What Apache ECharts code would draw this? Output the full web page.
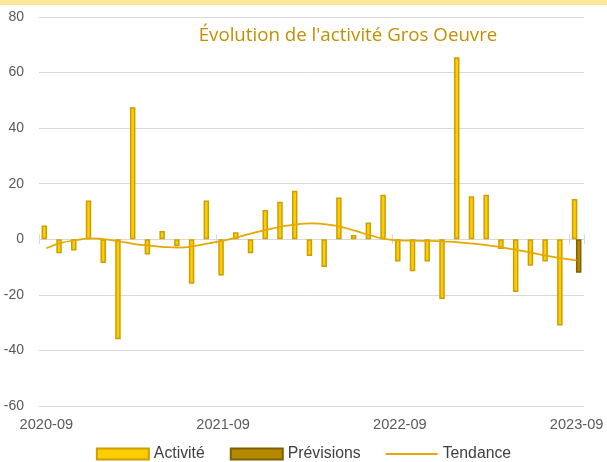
<!DOCTYPE html>
<html>
<head>
<meta charset="utf-8">
<script src="https://cdn.jsdelivr.net/npm/echarts@6/dist/echarts.min.js"></script>
<style>
  html, body { margin: 0; padding: 0; background: #ffffff; }
  #chart { width: 607px; height: 462px; }
</style>
</head>
<body>
<div id="chart"></div>
<script>
// Monthly categories, 2020-09 through 2023-09
const months = [
  '2020-09','2020-10','2020-11','2020-12','2021-01','2021-02','2021-03','2021-04','2021-05','2021-06','2021-07','2021-08',
  '2021-09','2021-10','2021-11','2021-12','2022-01','2022-02','2022-03','2022-04','2022-05','2022-06','2022-07','2022-08',
  '2022-09','2022-10','2022-11','2022-12','2023-01','2023-02','2023-03','2023-04','2023-05','2023-06','2023-07','2023-08',
  '2023-09'
];

// Observed activity (balance of opinion)
const activite = [
  5, -5, -4, 14, -8.5, -36, 47.5, -5.5, 3, -2.5, -16, 14,
  -13, 2.5, -5, 10.5, 13.5, 17.5, -6, -10, 15, 1.5, 6, 16,
  -8, -11.5, -8, -21.5, 65.5, 15.5, 16, -3.5, -19, -9.5, -8, -31,
  14.5
];

// Forecast: only the last month
const previsions = [
  null, null, null, null, null, null, null, null, null, null, null, null,
  null, null, null, null, null, null, null, null, null, null, null, null,
  null, null, null, null, null, null, null, null, null, null, null, null,
  -12
];

// Smoothed trend
const tendance = [
  -3.2, -1.3, -0.3, 0.3, 0.0, -0.8, -1.7, -2.3, -2.8, -3.0, -2.5, -1.5,
  -0.5, 0.8, 2.2, 3.5, 4.6, 5.4, 5.7, 5.4, 4.5, 3.0, 1.4, 0.1,
  -0.4, -0.5, -0.6, -0.8, -1.1, -1.6, -2.2, -3.0, -3.9, -4.9, -6.0, -6.9,
  -7.6
];

const yTicks = { min: -60, max: 80, interval: 20 };

const font = 'Liberation Sans, Arial, sans-serif';
const chart = echarts.init(document.getElementById('chart'), null, { renderer: 'canvas' });

chart.setOption({
  animation: false,
  backgroundColor: '#ffffff',
  graphic: [{
    type: 'rect',
    left: 0, top: 0,
    shape: { width: 607, height: 5 },
    style: { fill: '#FFE699' },
    silent: true
  }],
  title: {
    text: "Évolution de l'activité Gros Oeuvre",
    left: 343, top: 21,
    textAlign: 'center',
    textStyle: { color: '#BF9000', fontSize: 18.7, fontWeight: 'normal', fontFamily: 'Open Sans, sans-serif' }
  },
  legend: {
    top: 441,
    left: 'center',
    itemWidth: 52,
    itemHeight: 11,
    itemGap: 25,
    textStyle: { color: '#404040', fontSize: 15.8, fontFamily: font },
    data: [
      { name: 'Activité', icon: 'rect' },
      { name: 'Prévisions', icon: 'rect' },
      { name: 'Tendance', icon: 'path://M0,0 L52,0 L52,2 L0,2 Z' }
    ]
  },
  grid: { left: 39, right: 23, top: 17, bottom: 56, containLabel: false },
  xAxis: [
    {
      type: 'category',
      data: months,
      boundaryGap: true,
      position: 'bottom',
      axisLine: { show: false },
      axisTick: { show: false },
      axisLabel: {
        interval: 11,
        color: '#595959',
        fontSize: 14.6,
        fontFamily: font,
        margin: 11
      },
      splitLine: { show: false }
    },
    {
      type: 'category',
      data: months,
      boundaryGap: true,
      position: 'bottom',
      axisLine: { show: true, onZero: true, onZeroAxisIndex: 0, lineStyle: { color: '#D9D9D9', width: 1 } },
      axisTick: { show: true, interval: 11, inside: true, length: 5, lineStyle: { color: '#D9D9D9' } },
      axisLabel: { show: false }
    },
    {
      type: 'category',
      data: months,
      boundaryGap: true,
      position: 'bottom',
      axisLine: { show: false, onZero: true, onZeroAxisIndex: 0 },
      axisTick: { show: true, interval: 11, inside: false, length: 5, lineStyle: { color: '#D9D9D9' } },
      axisLabel: { show: false }
    }
  ],
  yAxis: {
    type: 'value',
    min: yTicks.min,
    max: yTicks.max,
    interval: yTicks.interval,
    axisLine: { show: false },
    axisTick: { show: false },
    axisLabel: { color: '#595959', fontSize: 14, fontFamily: font, margin: 15 },
    splitLine: { lineStyle: { color: '#D9D9D9', width: 1 } }
  },
  series: [
    {
      name: 'Activité',
      type: 'bar',
      data: activite,
      barWidth: 5.5,
      barGap: '-25%',
      itemStyle: { color: '#FFCC00', borderColor: '#C9A000', borderWidth: 1.5 }
    },
    {
      name: 'Prévisions',
      type: 'bar',
      data: previsions,
      barWidth: 5.5,
      itemStyle: { color: '#B38A00', borderColor: '#7F6000', borderWidth: 1.5 }
    },
    {
      name: 'Tendance',
      type: 'line',
      data: tendance,
      smooth: true,
      symbol: 'none',
      lineStyle: { color: '#E6A800', width: 1.75 },
      itemStyle: { color: '#E6A800' },
      z: 3
    }
  ]
});
</script>
</body>
</html>
